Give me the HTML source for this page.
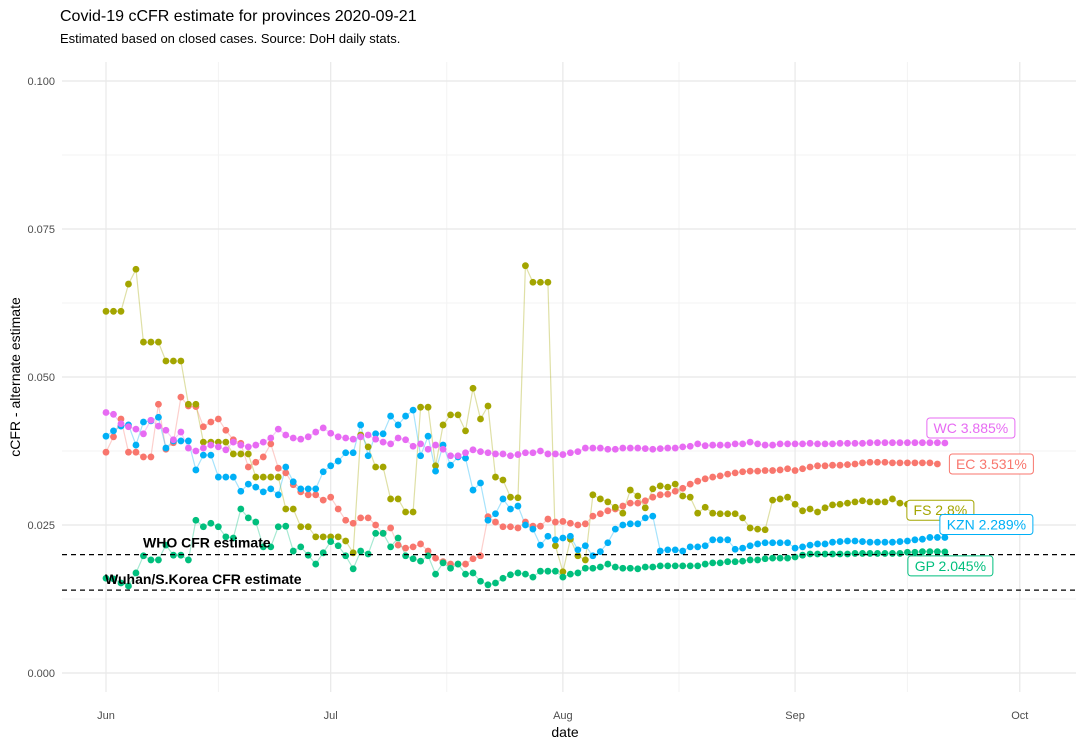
<!DOCTYPE html>
<html><head><meta charset="utf-8"><style>
body{margin:0;background:#fff;font-family:"Liberation Sans",Arial,sans-serif;}
svg{display:block}
</style></head><body>
<svg id="chart" width="1084" height="744">
<text x="60" y="21" font-size="16" fill="#000">Covid-19 cCFR estimate for provinces 2020-09-21</text>
<text x="60" y="43" font-size="13" fill="#000">Estimated based on closed cases.  Source: DoH daily stats.</text>
<text transform="translate(20,377) rotate(-90)" text-anchor="middle" font-size="14">cCFR - alternate estimate</text>
<text x="565" y="737" text-anchor="middle" font-size="14">date</text>
<g id="grid"></g><g id="axes"></g><g id="series"></g><g id="annot"></g>
</svg>
<script>
const provinces = ["EC","FS","GP","KZN","WC"];
const colors = {EC:"#F8766D",FS:"#A3A500",GP:"#00BF7D",KZN:"#00B0F6",WC:"#E76BF3"};
const yTicks = [0, 0.025, 0.05, 0.075, 0.1];
const yTickLabels = ["0.000","0.025","0.050","0.075","0.100"];
const xTickDays = [0, 30, 61, 92, 122];
const xTickLabels = ["Jun","Jul","Aug","Sep","Oct"];
const refLines = [0.02, 0.014];
const refLabels = ["WHO CFR estimate","Wuhan/S.Korea CFR estimate"];
// values in percent, one per day starting Jun 1
const EC = [3.73,3.99,4.29,3.73,3.73,3.65,3.65,4.54,3.78,3.89,4.66,4.51,4.50,4.16,4.24,4.29,4.10,3.94,3.88,3.48,3.56,3.65,3.87,3.46,3.38,3.18,3.06,3.01,3.01,2.92,2.97,2.77,
 2.58,2.53,2.62,2.62,2.50,2.36,2.45,2.16,2.11,2.13,2.18,2.06,1.94,1.88,1.84,1.84,1.84,1.93,1.98,2.64,2.55,2.47,2.47,2.45,2.55,2.48,2.48,2.60,2.55,2.56,2.53,2.50,
 2.52,2.65,2.69,2.74,2.77,2.82,2.87,2.87,2.91,2.97,3.01,3.02,3.07,3.12,3.19,3.24,3.28,3.31,3.33,3.36,3.38,3.40,3.41,3.41,3.42,3.42,3.43,3.45,3.42,3.45,3.48,3.50,3.50,3.51,3.51,3.52,3.53,3.55,3.56,3.56,3.56,3.55,3.55,3.55,3.55,3.55,3.55,3.531];
const FS = [6.11,6.11,6.11,6.57,6.82,5.59,5.59,5.59,5.27,5.27,5.27,4.54,4.54,3.90,3.90,3.90,3.90,3.70,3.70,3.70,3.31,3.31,3.31,3.31,2.77,2.77,2.47,2.47,2.30,2.30,2.30,2.30,
 2.23,2.03,4.02,3.82,3.48,3.48,2.94,2.94,2.72,2.72,4.49,4.49,3.50,4.19,4.36,4.36,4.09,4.81,4.29,4.51,3.31,3.26,2.97,2.96,6.88,6.60,6.60,6.60,2.15,1.71,2.26,1.98,
 1.91,3.01,2.94,2.89,2.80,2.70,3.09,2.99,2.79,3.11,3.16,3.14,3.19,2.99,2.97,2.70,2.80,2.70,2.69,2.69,2.69,2.62,2.45,2.43,2.42,2.92,2.94,2.97,2.85,2.74,2.77,2.72,2.79,2.84,2.85,2.87,2.89,2.91,2.89,2.89,2.89,2.94,2.87,2.85,2.84,2.82,2.80,2.80,2.80];
const GP = [1.60,1.59,1.52,1.47,1.69,1.98,1.91,1.91,2.16,1.99,1.99,1.91,2.58,2.47,2.53,2.47,2.30,2.28,2.77,2.62,2.55,2.13,2.13,2.47,2.48,2.06,2.13,1.99,1.84,2.03,2.22,2.15,
 1.98,1.76,2.06,2.01,2.36,2.36,2.13,2.28,1.98,1.93,1.89,1.98,1.67,1.86,1.77,1.84,1.67,1.69,1.55,1.49,1.52,1.60,1.66,1.69,1.67,1.62,1.72,1.72,1.72,1.62,1.67,1.69,
 1.77,1.77,1.79,1.84,1.79,1.77,1.77,1.76,1.79,1.79,1.81,1.81,1.81,1.81,1.81,1.81,1.84,1.86,1.86,1.88,1.88,1.89,1.91,1.91,1.93,1.94,1.94,1.94,1.96,1.99,2.01,2.01,2.01,2.01,2.01,2.01,2.02,2.02,2.02,2.02,2.02,2.02,2.02,2.04,2.04,2.05,2.05,2.05,2.045];
const KZN = [4.00,4.09,4.17,4.19,3.85,4.24,4.26,4.32,3.80,3.92,3.92,3.92,3.43,3.68,3.68,3.31,3.31,3.31,3.07,3.19,3.14,3.06,3.11,3.01,3.48,3.23,3.11,3.11,3.11,3.40,3.50,3.58,
 3.72,3.72,4.19,3.67,4.04,4.04,4.34,4.19,4.34,4.44,3.67,4.00,3.41,3.85,3.51,3.65,3.63,3.09,3.21,2.58,2.69,2.94,2.77,2.82,2.50,2.43,2.16,2.31,2.25,2.28,2.31,2.08,
 2.15,1.98,2.05,2.20,2.43,2.50,2.52,2.52,2.62,2.65,2.06,2.08,2.08,2.06,2.13,2.13,2.15,2.25,2.25,2.25,2.09,2.11,2.15,2.18,2.20,2.20,2.20,2.20,2.11,2.13,2.16,2.18,2.18,2.21,2.22,2.23,2.23,2.22,2.21,2.21,2.21,2.21,2.22,2.23,2.25,2.26,2.29,2.29,2.289];
const WC = [4.40,4.37,4.21,4.16,4.12,4.04,4.27,4.17,4.10,3.94,4.07,3.80,3.75,3.80,3.85,3.82,3.77,3.90,3.85,3.82,3.85,3.90,3.97,4.12,4.02,3.97,3.95,3.99,4.07,4.14,4.05,3.99,
 3.97,3.95,3.99,4.02,3.95,3.90,3.87,3.97,3.94,3.83,3.87,3.78,3.85,3.78,3.67,3.67,3.72,3.77,3.74,3.72,3.70,3.70,3.67,3.69,3.72,3.72,3.75,3.70,3.70,3.69,3.72,3.74,
 3.80,3.80,3.80,3.78,3.78,3.80,3.80,3.80,3.79,3.78,3.79,3.80,3.80,3.82,3.83,3.87,3.84,3.85,3.85,3.85,3.87,3.87,3.90,3.87,3.85,3.85,3.87,3.87,3.87,3.87,3.88,3.87,3.87,3.87,3.88,3.88,3.88,3.88,3.89,3.89,3.89,3.89,3.89,3.89,3.89,3.89,3.89,3.89,3.885];
const labelText = {EC:"EC 3.531%",FS:"FS 2.8%",GP:"GP 2.045%",KZN:"KZN 2.289%",WC:"WC 3.885%"};
const seriesData = {EC, FS, GP, KZN, WC};

const NS="http://www.w3.org/2000/svg";
const X0=106, PXD=7.49, Y0=673, PXV=5920;
const xs = d => X0 + d*PXD;
const ys = v => Y0 - v*PXV;
const L=62, R=1076, T=62, B=692;
function mk(tag, attrs, parent){const e=document.createElementNS(NS,tag);for(const k in attrs)e.setAttribute(k,attrs[k]);parent.appendChild(e);return e;}
const grid=document.getElementById('grid'), axes=document.getElementById('axes'), ser=document.getElementById('series'), ann=document.getElementById('annot');
for(let i=0;i<yTicks.length-1;i++){const y=ys((yTicks[i]+yTicks[i+1])/2);
 const g=mk('line',{x1:L,x2:R,y1:y,y2:y,stroke:'#f3f3f3','stroke-width':1},grid);
 
 }
for(let i=0;i<xTickDays.length-1;i++){const x=xs((xTickDays[i]+xTickDays[i+1])/2);
 const g=mk('line',{x1:x,x2:x,y1:T,y2:B,stroke:'#f3f3f3','stroke-width':1},grid);
 
 }
yTicks.forEach((t,i)=>{const y=ys(t);
 const g=mk('line',{x1:L,x2:R,y1:y,y2:y,stroke:'#e8e8e8','stroke-width':1.2},grid);
 
 
 const tx=mk('text',{x:55,y:y+4,'text-anchor':'end','font-size':11,fill:'#4d4d4d'},axes);
 tx.textContent=yTickLabels[i];
 
 });
xTickDays.forEach((d,i)=>{const x=xs(d);
 const g=mk('line',{x1:x,x2:x,y1:T,y2:B,stroke:'#e8e8e8','stroke-width':1.2},grid);
 
 
 const tx=mk('text',{x:x,y:719,'text-anchor':'middle','font-size':11,fill:'#4d4d4d'},axes);
 tx.textContent=xTickLabels[i];
 
 });
provinces.forEach(p=>{const data=seriesData[p];const c=colors[p];
 const pts=data.map((v,i)=>xs(i).toFixed(1)+','+ys(v/100).toFixed(1)).join(' ');
 const pl=mk('polyline',{points:pts,fill:'none',stroke:c,'stroke-opacity':0.35,'stroke-width':1.2},ser);
 
 });
provinces.forEach(p=>{const data=seriesData[p];const c=colors[p];
 data.forEach((v,i)=>{const ci=mk('circle',{cx:xs(i),cy:ys(v/100),r:3.4,fill:c},ser);
 
 });});
refLines.forEach((v,i)=>{const y=ys(v);
 const l=mk('line',{x1:L,x2:R,y1:y,y2:y,stroke:'#000','stroke-width':1.2,'stroke-dasharray':'5,4'},ann);
 
 });
const w1=mk('text',{x:143,y:ys(refLines[0])-7,'font-size':14,'font-weight':'bold'},ann);w1.textContent=refLabels[0];


const w2=mk('text',{x:105,y:ys(refLines[1])-6,'font-size':14,'font-weight':'bold'},ann);w2.textContent=refLabels[1];


const offs={WC:[-18,-15,88],EC:[12,0,84],FS:[-38,3,67],KZN:[-5,-13,93],GP:[-37,14,85]};
provinces.forEach(p=>{const data=seriesData[p];const n=data.length-1;const x=xs(n)+offs[p][0];const yc=ys(data[n]/100)+offs[p][1];const w=offs[p][2];
 const g=mk('g',{},ann);
 
 
 mk('rect',{x:x,y:yc-10,width:w,height:20,rx:3,fill:'#fff',stroke:colors[p],'stroke-width':1},g);
 const t=mk('text',{x:x+w/2,y:yc+5,'text-anchor':'middle','font-size':14,fill:colors[p]},g);t.textContent=labelText[p];});
</script>
</body></html>
